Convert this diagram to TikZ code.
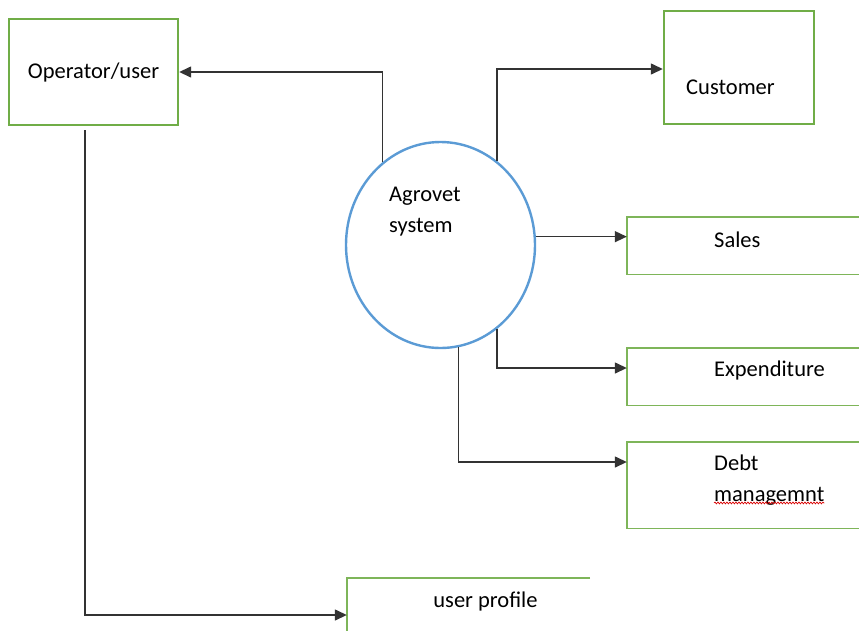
\documentclass[tikz,border=0pt]{standalone}
\usepackage{fontspec}
\setmainfont{Carlito}
\usetikzlibrary{
    shapes.geometric,
    arrows.meta,
    positioning,
    decorations.pathmorphing
}
\definecolor{entitygreen}{RGB}{112, 173, 71}
\definecolor{procblue}{RGB}{91, 155, 213}

\begin{document}
\begin{tikzpicture}[
        x=1pt, y=-1pt,
        font=\fontsize{22.5}{31}\selectfont,
        entity/.style={draw=entitygreen, line width=2.4pt, minimum width=169pt, minimum height=106pt, align=center},
        process/.style={ellipse, draw=procblue, line width=2.4pt, minimum width=189pt, minimum height=206pt},
        store/.style={minimum width=232pt, minimum height=57pt, inner sep=0pt},
        storeline/.style={draw=entitygreen!90, line width=1.4pt},
        txt/.style={inner sep=0pt, align=left},
        arrow/.style={-{Triangle[length=12pt, width=11pt]}, draw=black!80, line width=1.4pt},
        squiggle/.style={draw=red!85!black, line width=0.7pt, decorate, decoration={snake, amplitude=0.9pt, segment length=3pt}}
    ]
        \useasboundingbox (0,0) rectangle (859,630);

        % Entities
        \node[entity] (oper) at (93.5, 72) {Operator/user};
        \node[entity, minimum width=150pt, minimum height=113pt] (cust) at (739, 67.5) {};
        \node[txt, anchor=west] (custtxt) at (686, 87) {Customer};

        % Process
        \node[process] (agro) at (440.5, 245) {};
        \node[txt, anchor=west] (agrotxt) at (389, 212) {Agrovet\\system};

        % Data stores
        \node[store] (sales) at (743, 245.5) {};
        \node[store] (expend) at (743, 376.5) {};
        \node[store, minimum height=86pt] (debt) at (743, 485) {};
        \node[store, minimum width=243pt, minimum height=54pt] (prof) at (468.5, 605) {};
        \draw[storeline] (sales.north east) -- (sales.north west) -- (sales.south west) -- (sales.south east);
        \draw[storeline] (expend.north east) -- (expend.north west) -- (expend.south west) -- (expend.south east);
        \draw[storeline] (debt.north east) -- (debt.north west) -- (debt.south west) -- (debt.south east);
        \draw[storeline] (prof.north east) -- (prof.north west) -- (prof.south west);

        \node[txt, anchor=west] (salestxt) at (714, 240) {Sales};
        \node[txt, anchor=west] (expendtxt) at (714, 370) {Expenditure};
        \node[txt, anchor=west] (debttxt) at (714, 480) {Debt\\managemnt};
        \node[txt] (proftxt) at (485.5, 601) {user profile};
        \draw[squiggle] ([yshift=2.5pt]debttxt.south west) -- ([yshift=2.5pt]debttxt.south east);

        % Arrows
        \draw[arrow] (agro.125) |- (oper.east);
        \draw[arrow] (agro.56) |- ([yshift=-1.5pt]cust.west);
        \draw[arrow] (agro.5) -- (agro.5 -| sales.west);
        \draw[arrow] (agro.-56) |- ([yshift=8.5pt]expend.west);
        \draw[arrow] (agro.-80) |- ([yshift=23pt]debt.west);
        \draw[arrow] ([xshift=-8.5pt, yshift=-4pt]oper.south) |- ([yshift=-10pt]prof.west);
    \end{tikzpicture}
\end{document}
